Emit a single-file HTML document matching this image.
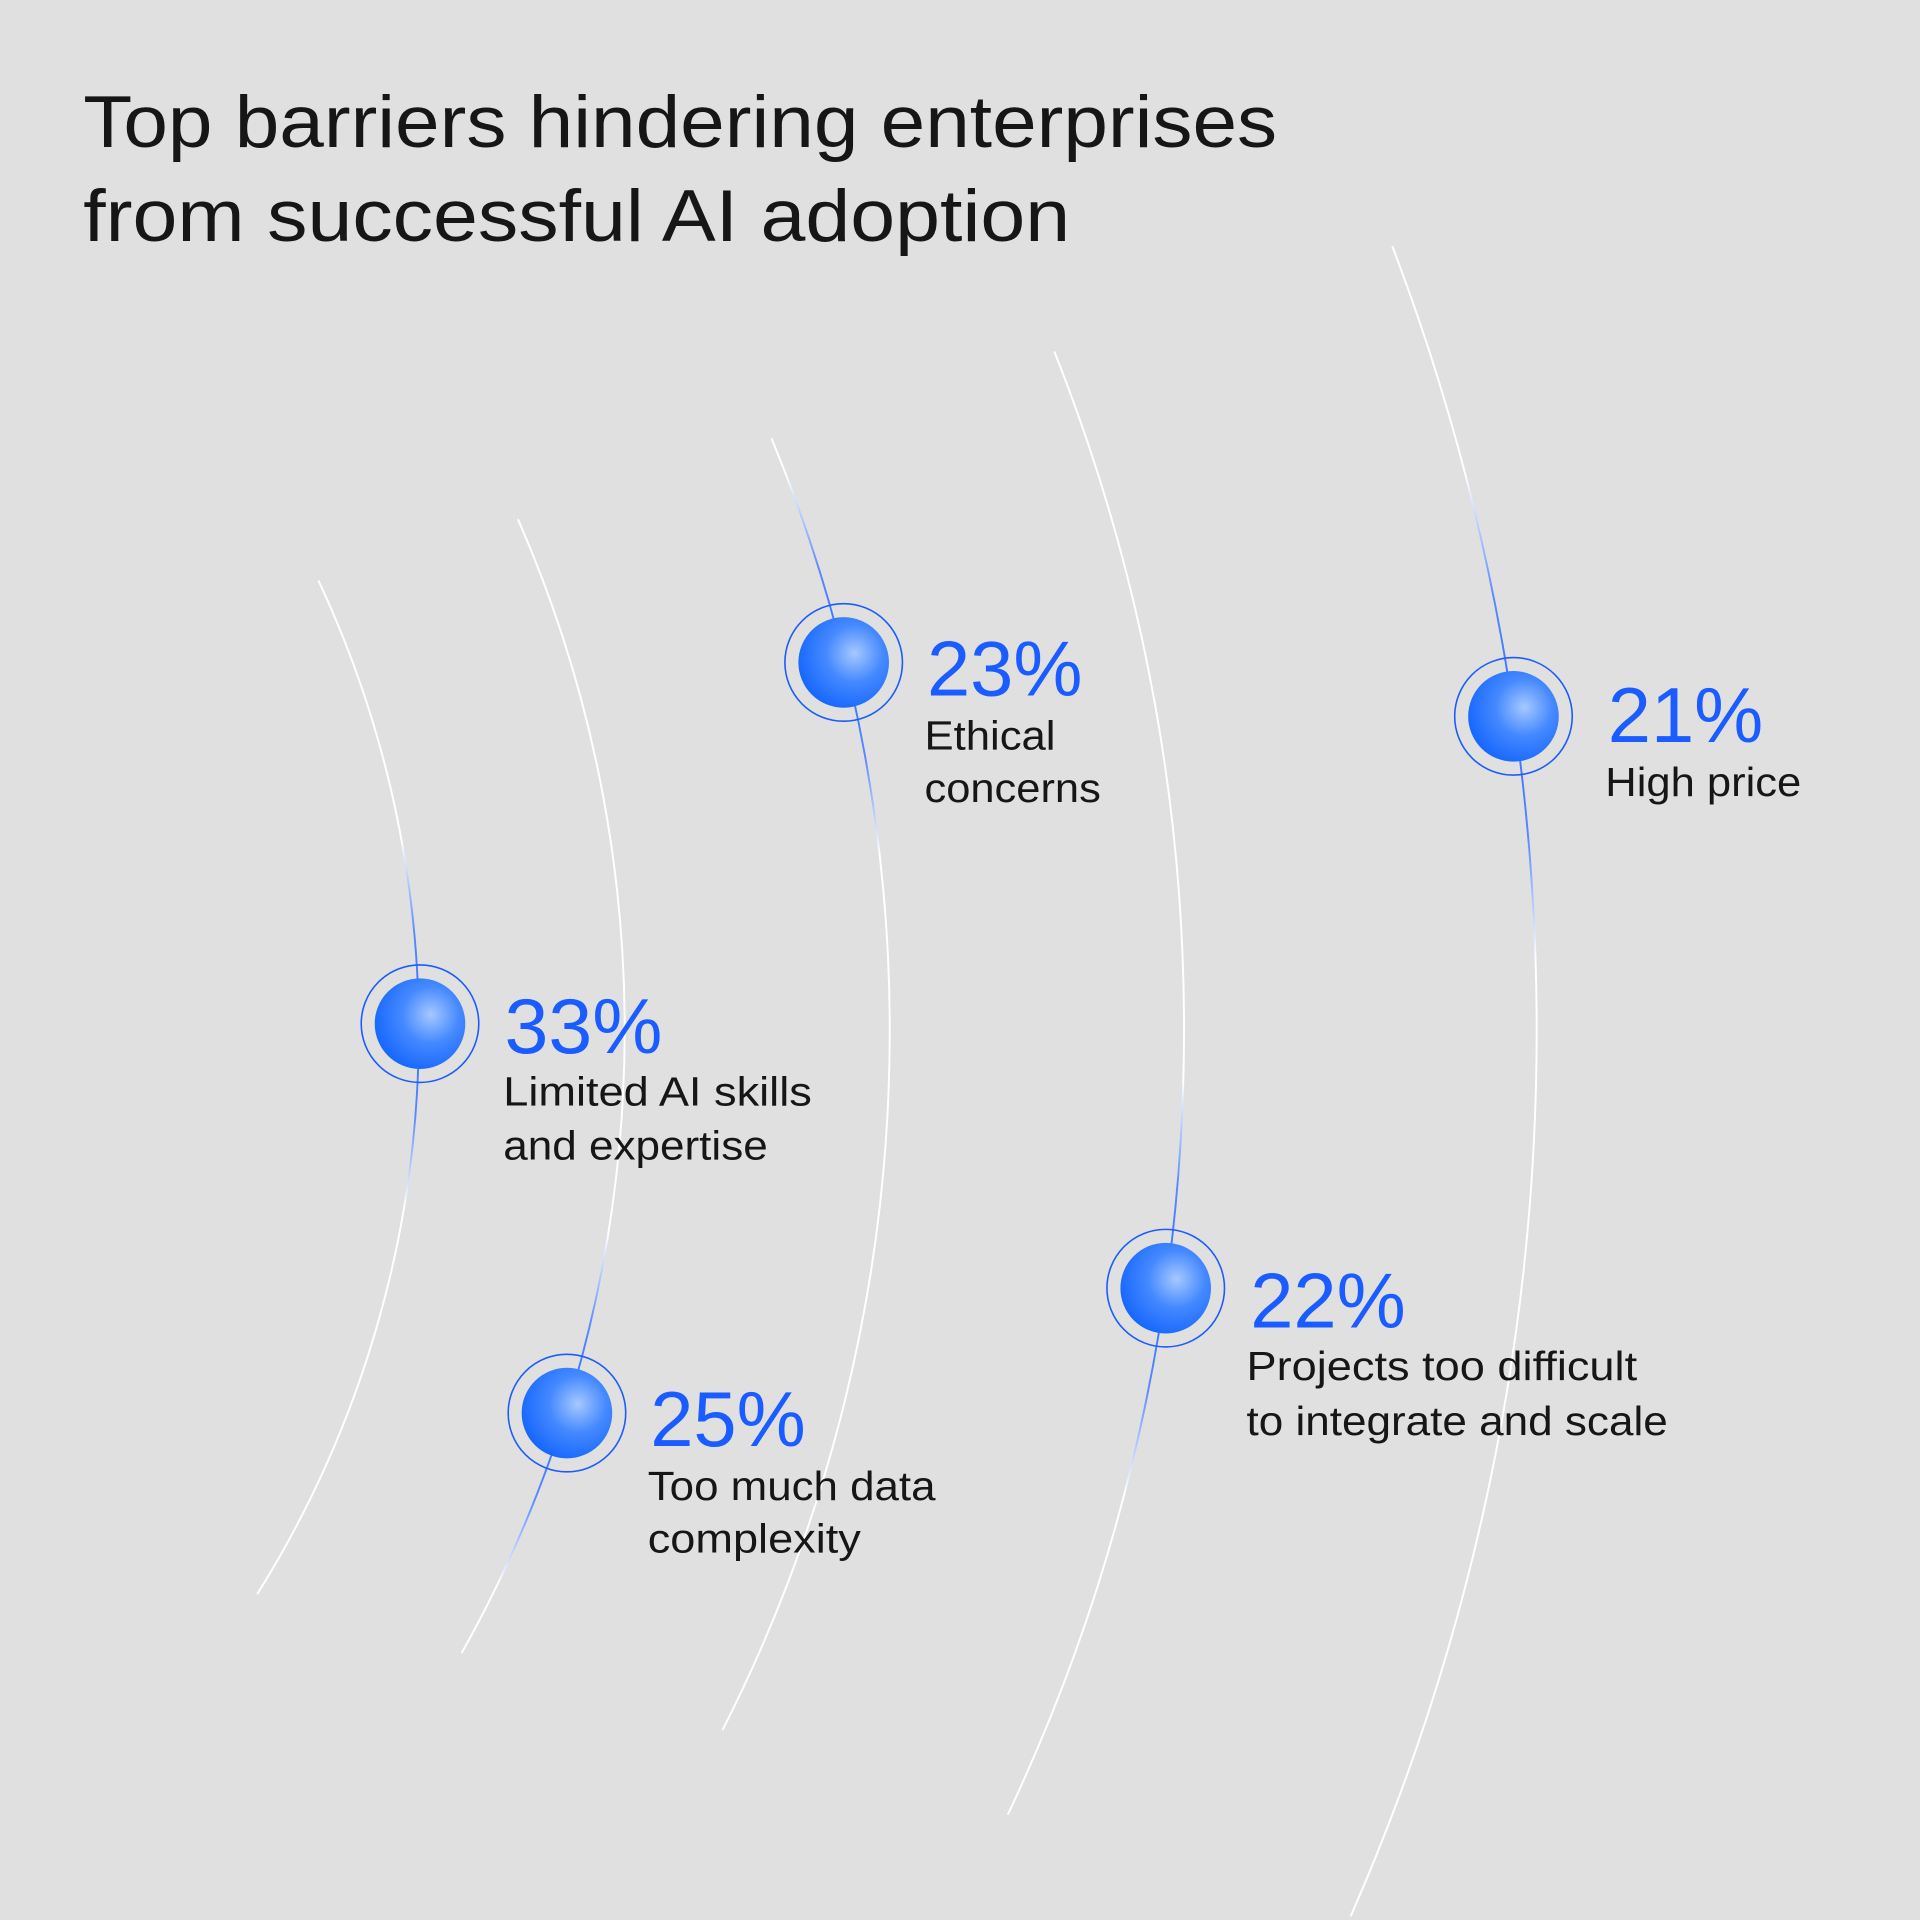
<!DOCTYPE html>
<html><head><meta charset="utf-8"><style>
html,body{margin:0;padding:0;background:#e0e0e0;}
svg{display:block}
text{font-family:"Liberation Sans",sans-serif;}
</style></head><body>
<svg width="1920" height="1920" viewBox="0 0 1568 1568" xmlns="http://www.w3.org/2000/svg">
<defs>
<radialGradient id="ball" cx="0.62" cy="0.4" r="0.7">
<stop offset="0" stop-color="#a6c8ff"/>
<stop offset="0.45" stop-color="#4589ff"/>
<stop offset="1" stop-color="#0f62fe"/>
</radialGradient>
<radialGradient id="fade">
<stop offset="0" stop-color="#fff" stop-opacity="1"/>
<stop offset="0.5" stop-color="#fff" stop-opacity="0.8"/>
<stop offset="1" stop-color="#fff" stop-opacity="0"/>
</radialGradient>
<mask id="m" maskUnits="userSpaceOnUse" x="0" y="0" width="1568" height="1568">
<circle cx="343" cy="836" r="150" fill="url(#fade)"/>
<circle cx="689" cy="541" r="160" fill="url(#fade)"/>
<circle cx="1236" cy="585" r="200" fill="url(#fade)"/>
<circle cx="463" cy="1154" r="150" fill="url(#fade)"/>
<circle cx="952" cy="1052" r="170" fill="url(#fade)"/>
</mask>
<g id="arcs" fill="none" stroke-width="1.6">
<path d="M260 474 A867 867 0 0 1 210 1302"/>
<path d="M423 424 A1040 1040 0 0 1 377 1350"/>
<path d="M630 358 A1261 1261 0 0 1 590 1413"/>
<path d="M861 287 A1500 1500 0 0 1 823 1482"/>
<path d="M1137 201 A1798 1798 0 0 1 1103 1565"/>
</g>
</defs>
<rect width="1568" height="1568" fill="#e0e0e0"/>
<use href="#arcs" stroke="#ffffff"/>
<g mask="url(#m)"><use href="#arcs" stroke="#2f6cff"/></g>

<text x="68" y="120" font-size="60" fill="#161616" textLength="975" lengthAdjust="spacingAndGlyphs">Top barriers hindering enterprises</text>
<text x="68" y="197" font-size="60" fill="#161616" textLength="806" lengthAdjust="spacingAndGlyphs">from successful AI adoption</text>

<g fill="none" stroke="#1a5cff" stroke-width="1.3">
<circle cx="343" cy="836" r="48"/><circle cx="689" cy="541" r="48"/>
<circle cx="1236" cy="585" r="48"/><circle cx="463" cy="1154" r="48"/>
<circle cx="952" cy="1052" r="48"/>
</g>
<g fill="url(#ball)">
<circle cx="343" cy="836" r="37"/><circle cx="689" cy="541" r="37"/>
<circle cx="1236" cy="585" r="37"/><circle cx="463" cy="1154" r="37"/>
<circle cx="952" cy="1052" r="37"/>
</g>

<g font-size="64" fill="#1a5cff">
<text x="412" y="860" textLength="129" lengthAdjust="spacingAndGlyphs">33%</text>
<text x="757" y="568" textLength="127" lengthAdjust="spacingAndGlyphs">23%</text>
<text x="1313" y="606" textLength="127" lengthAdjust="spacingAndGlyphs">21%</text>
<text x="531" y="1181" textLength="127" lengthAdjust="spacingAndGlyphs">25%</text>
<text x="1021" y="1084" textLength="127" lengthAdjust="spacingAndGlyphs">22%</text>
</g>
<g font-size="33" fill="#161616">
<text x="411" y="903" textLength="252" lengthAdjust="spacingAndGlyphs">Limited AI skills</text>
<text x="411" y="947" textLength="216" lengthAdjust="spacingAndGlyphs">and expertise</text>
<text x="755" y="612" textLength="107" lengthAdjust="spacingAndGlyphs">Ethical</text>
<text x="755" y="655" textLength="144" lengthAdjust="spacingAndGlyphs">concerns</text>
<text x="1311" y="650" textLength="160" lengthAdjust="spacingAndGlyphs">High price</text>
<text x="529" y="1225" textLength="235" lengthAdjust="spacingAndGlyphs">Too much data</text>
<text x="529" y="1268" textLength="174" lengthAdjust="spacingAndGlyphs">complexity</text>
<text x="1018" y="1127" textLength="319" lengthAdjust="spacingAndGlyphs">Projects too difficult</text>
<text x="1018" y="1172" textLength="344" lengthAdjust="spacingAndGlyphs">to integrate and scale</text>
</g>
</svg>
</body></html>
